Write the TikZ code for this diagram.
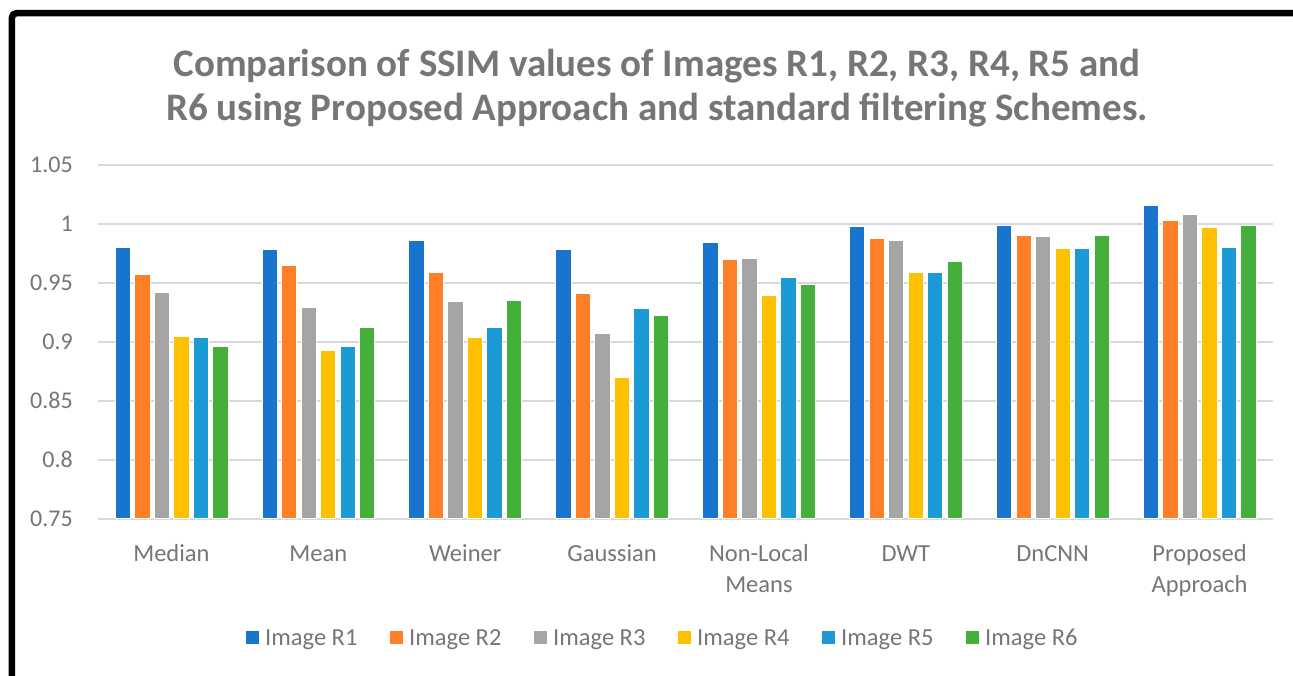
\documentclass[tikz,border=0pt]{standalone}
\usepackage{fontspec}
\setmainfont{Carlito}
\usepackage{xcolor}
\usepackage{tikz}
\usetikzlibrary{calc}
\definecolor{txt}{HTML}{767676}
\definecolor{gridc}{HTML}{D9D9D9}
\definecolor{ser0}{HTML}{1874CD}
\definecolor{ser1}{HTML}{FF7F27}
\definecolor{ser2}{HTML}{A5A5A5}
\definecolor{ser3}{HTML}{FFC000}
\definecolor{ser4}{HTML}{1B9AD6}
\definecolor{ser5}{HTML}{45AF3B}
\tikzset{
  frame/.style={draw=black, line width=6.5pt, rounded corners=5pt},
  gridline/.style={draw=gridc, line width=1.6pt},
  bar/.style={draw=white, line width=0.6pt},
  titlelab/.style={text=txt, font=\fontsize{39}{44}\selectfont\bfseries, align=center, anchor=base, inner sep=0pt},
  ticklab/.style={text=txt, font=\fontsize{24}{29}\selectfont, anchor=east, inner sep=0pt},
  catlab/.style={text=txt, font=\fontsize{24.5}{31}\selectfont, align=center, anchor=base, inner sep=0pt},
  keybox/.style={minimum size=13pt, inner sep=0pt},
  keylab/.style={text=txt, font=\fontsize{24.5}{29}\selectfont, anchor=base west, inner sep=0pt},
}
\begin{document}
\begin{tikzpicture}[x=1pt, y=-1pt]
  \useasboundingbox (0,0) rectangle (1293,675);
  \clip (0,0) rectangle (1293,675);
  \fill[white] (0,0) rectangle (1293,675);
  \draw[frame] (11.75,13) rectangle (1330,710);
  \node[titlelab] (title) at (657,120) {Comparison of SSIM values of Images R1, R2, R3, R4, R5 and\\R6 using Proposed Approach and standard filtering Schemes.};
  \foreach \k/\t in {0/0.75,1/0.8,2/0.85,3/0.9,4/0.95,5/1,6/1.05} {
    \draw[gridline] (98,{518.7-59*\k}) -- (1273,{518.7-59*\k});
    \node[ticklab] (tick-\k) at (73,{518.7-59*\k}) {\t};
  }
  \foreach \i/\name/\by/\vals in {
      0/Median/561/{0.980,0.957,0.942,0.905,0.904,0.896},
      1/Mean/561/{0.978,0.965,0.929,0.893,0.896,0.912},
      2/Weiner/561/{0.986,0.959,0.934,0.904,0.912,0.935},
      3/Gaussian/561/{0.978,0.941,0.907,0.870,0.928,0.922},
      4/{Non-Local\\Means}/592/{0.984,0.970,0.971,0.939,0.955,0.949},
      5/DWT/561/{0.998,0.988,0.986,0.959,0.959,0.968},
      6/DnCNN/561/{0.999,0.990,0.989,0.979,0.979,0.990},
      7/{Proposed\\Approach}/592/{1.016,1.003,1.008,0.997,0.980,0.999}} {
    \pgfmathsetmacro\cx{98+146.875*(\i+0.5)}
    \foreach \v [count=\j from 0] in \vals {
      \pgfmathsetmacro\xl{\cx-56.4+19.5*\j}
      \pgfmathsetmacro\yt{518.7-(\v-0.75)*1180}
      \filldraw[bar, fill=ser\j] (\xl,\yt) rectangle ({\xl+15.3},518.7);
    }
    \node[catlab] (cat-\i) at (\cx,\by) {\name};
  }
  \foreach \n [count=\j from 0] in {1,...,6} {
    \node[keybox, fill=ser\j] (key-\j) at ({252.5+144*\j},637.5) {};
    \node[keylab] (lab-\j) at ({265+144*\j},645) {Image R\n};
  }
\end{tikzpicture}
\end{document}
